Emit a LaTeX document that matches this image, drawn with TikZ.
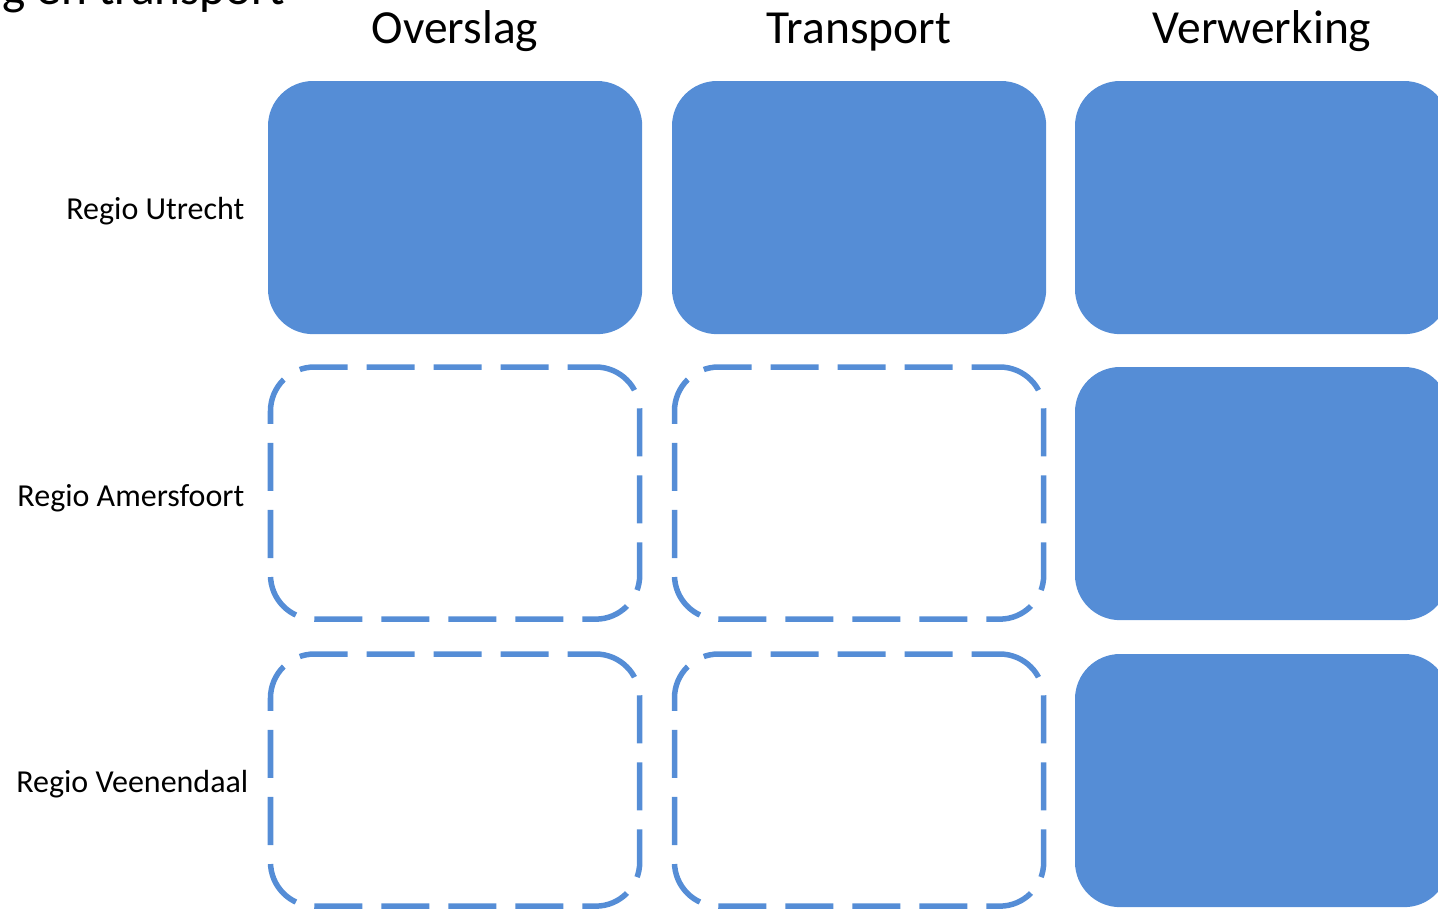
\documentclass[tikz,border=0pt]{standalone}
\usepackage{fontspec}
\setmainfont{Carlito}
\definecolor{boxblue}{HTML}{558DD6}
\begin{document}
\begin{tikzpicture}[x=0.01cm,y=-0.01cm,
  solidcell/.style={rectangle,rounded corners=0.45cm,minimum width=3.74cm,minimum height=2.53cm,inner sep=0pt,outer sep=0pt,anchor=north west,fill=boxblue,draw=none},
  dashcell/.style={rectangle,rounded corners=0.44cm,minimum width=3.69cm,minimum height=2.52cm,inner sep=0pt,outer sep=0pt,anchor=north west,draw=boxblue,line width=0.055cm,dash pattern=on 0.48cm off 0.19cm,dash phase=0.2cm},
  header/.style={font=\fontsize{13.5pt}{15pt}\selectfont,anchor=base},
  rowlabel/.style={font=\fontsize{9.1pt}{11pt}\selectfont,anchor=base east}]
\useasboundingbox (0,0) rectangle (1438,908);
\clip (0,0) rectangle (1438,908);
\node[font=\fontsize{14pt}{16pt}\selectfont,anchor=base east,inner sep=0pt] (title) at (286,4) {Overslag en transport};
\node[header] (h1) at (455,43) {Overslag};
\node[header] (h2) at (859,43) {Transport};
\node[header] (h3) at (1262,43) {Verwerking};
\node[rowlabel,inner sep=0pt] (r1) at (245,219) {Regio Utrecht};
\node[rowlabel,inner sep=0pt] (r2) at (245,506) {Regio Amersfoort};
\node[rowlabel,inner sep=0pt] (r3) at (249,792) {Regio Veenendaal};
\node[solidcell] (a1) at (268,81) {};
\node[solidcell] (b1) at (672,81) {};
\node[solidcell] (c1) at (1075,81) {};
\node[dashcell] (a2) at (270.5,367) {};
\node[dashcell] (b2) at (674.5,367) {};
\node[solidcell] (c2) at (1075,367) {};
\node[dashcell] (a3) at (270.5,654) {};
\node[dashcell] (b3) at (674.5,654) {};
\node[solidcell] (c3) at (1075,654) {};
\end{tikzpicture}
\end{document}
